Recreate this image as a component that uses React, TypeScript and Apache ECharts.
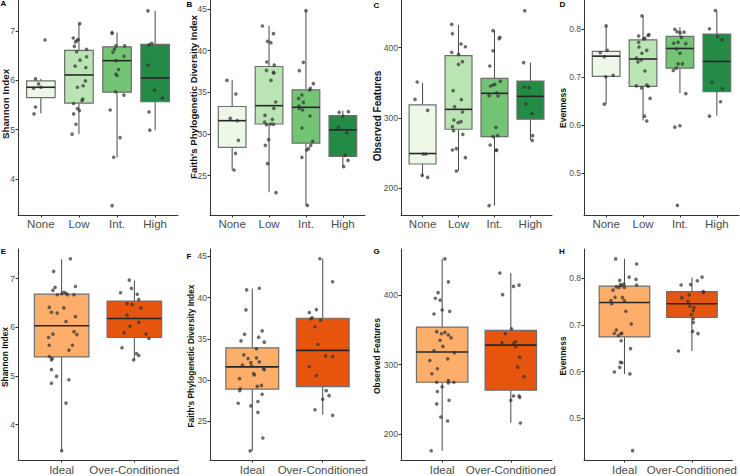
import { useEffect, useRef } from "react";
import * as echarts from "echarts";

const FONT = '"Liberation Sans", Arial, Helvetica, sans-serif';

// Group labels
const conditionGroups = ["None", "Low", "Int.", "High"];
const bcsGroups = ["Ideal", "Over-Conditioned"];

// Fill colours per group
const conditionFills = ["#edf8e9", "#bae4b3", "#74c476", "#238b45"];
const bcsFills = ["#fdae6b", "#e6550d"];

// Box summaries per group: [lower whisker, Q1, median, Q3, upper whisker]
const shannonConditionBoxes = [
  [5.33, 5.65, 5.86, 5.99, 6.03],
  [4.91, 5.54, 6.11, 6.61, 7.16],
  [4.44, 5.76, 6.4, 6.68, 6.97],
  [4.99, 5.57, 6.05, 6.73, 7.41],
];
const faithConditionBoxes = [
  [25.7, 28.4, 31.6, 33.3, 36.5],
  [23.0, 31.2, 33.4, 38.1, 43.0],
  [21.4, 28.9, 33.2, 35.3, 44.8],
  [26.1, 27.3, 30.5, 32.2, 32.8],
];
const observedConditionBoxes = [
  [217, 234.6, 249.5, 318.6, 350],
  [224.6, 284, 312.3, 388.6, 432.2],
  [175.4, 273.5, 335.1, 356.4, 425.1],
  [269, 298.4, 330.8, 352.6, 378.7],
];
const evennessConditionBoxes = [
  [0.644, 0.702, 0.744, 0.754, 0.807],
  [0.61, 0.681, 0.738, 0.778, 0.828],
  [0.667, 0.719, 0.76, 0.785, 0.804],
  [0.62, 0.67, 0.733, 0.79, 0.838],
];
const shannonBcsBoxes = [
  [3.46, 5.39, 6.03, 6.68, 7.4],
  [5.33, 5.79, 6.18, 6.54, 6.96],
];
const faithBcsBoxes = [
  [21.4, 28.9, 31.6, 33.9, 41.1],
  [25.8, 29.2, 33.6, 37.5, 44.7],
];
const observedBcsBoxes = [
  [175.4, 274.4, 318, 354, 452.6],
  [215.6, 263, 328, 349.3, 432.2],
];
const evennessBcsBoxes = [
  [0.595, 0.674, 0.7475, 0.7825, 0.841],
  [0.644, 0.716, 0.745, 0.771, 0.801],
];

// Individual samples: [group index, horizontal jitter, value]
const shannonConditionPoints = [
  [0, 0.11, 6.82], [0, -0.14, 6.03], [0, -0.06, 5.93], [0, -0.19, 5.84], [0, 0, 5.86], [0, -0.14, 5.46], [0, -0.18, 5.32],
  [1, 0.02, 7.15], [1, -0.15, 6.86], [1, -0.02, 6.83], [1, -0.05, 6.81], [1, -0.09, 6.78], [1, -0.12, 6.69], [1, -0.06, 6.58],
  [1, 0.2, 6.63], [1, 0.03, 6.41], [1, 0.2, 6.48], [1, -0.1, 6.29], [1, 0.18, 6.26], [1, 0.17, 5.99], [1, 0.11, 5.89],
  [1, -0.04, 5.86], [1, 0.1, 5.62], [1, 0.08, 5.59], [1, -0.14, 5.53], [1, -0.04, 5.43], [1, 0.01, 5.39], [1, -0.14, 5.32],
  [1, -0.08, 5.11], [1, -0.18, 4.91],
  [2, -0.13, 6.97], [2, -0.13, 6.95], [2, -0.03, 6.7], [2, 0.2, 6.7], [2, -0.07, 6.63], [2, -0.11, 6.57], [2, 0.18, 6.49],
  [2, -0.03, 6.4], [2, 0.04, 6.22], [2, -0.03, 6.13], [2, 0, 6.1], [2, -0.04, 5.77], [2, 0.18, 5.7], [2, -0.18, 5.4],
  [2, 0.08, 4.84], [2, -0.09, 4.44], [2, -0.13, 3.46],
  [3, -0.19, 7.41], [3, -0.09, 6.75], [3, -0.16, 6.72], [3, -0.18, 6.31], [3, -0.02, 5.8], [3, 0.19, 5.64], [3, -0.16, 5.36],
  [3, -0.14, 4.99],
];
const faithConditionPoints = [
  [0, -0.14, 36.44], [0, 0.1, 34.8], [0, -0.05, 31.88], [0, 0.14, 31.6], [0, 0.17, 29.24], [0, 0.09, 27.68], [0, 0.05, 25.68],
  [1, -0.18, 42.96], [1, 0.12, 42.04], [1, -0.04, 41.12], [1, 0.05, 40.96], [1, -0.06, 38.64], [1, 0.14, 38.28],
  [1, -0.07, 37.64], [1, 0.12, 37.4], [1, 0.13, 37.32], [1, 0.05, 36.44], [1, 0.18, 33.84], [1, 0.13, 33.08],
  [1, -0.11, 32.24], [1, -0.12, 31.44], [1, 0.09, 31.76], [1, 0.04, 31.2], [1, 0.12, 31.16], [1, -0.07, 31.12],
  [1, -0.01, 29.32], [1, -0.1, 28.64], [1, -0.04, 26.44], [1, 0.19, 22.96],
  [2, 0, 44.8], [2, -0.07, 38.6], [2, -0.18, 37.6], [2, 0.2, 36.04], [2, 0.12, 35.48], [2, 0.1, 35.28], [2, -0.11, 34.68],
  [2, -0.2, 34.28], [2, -0.07, 33.8], [2, -0.19, 33.36], [2, -0.18, 33.08], [2, -0.09, 32.88], [2, 0.11, 32.16],
  [2, -0.11, 30.72], [2, 0.18, 29.12], [2, 0.13, 28.64], [2, 0.02, 28.08], [2, 0.07, 28.24], [2, -0.11, 27.2], [2, 0.04, 21.44],
  [3, -0.1, 32.6], [3, 0.15, 32.68], [3, 0, 32.12], [3, -0.12, 30.8], [3, 0.11, 30.16], [3, 0.06, 27.44], [3, 0.14, 26.84],
  [3, 0.02, 26.08],
];
const observedConditionPoints = [
  [0, -0.15, 351.2], [0, -0.21, 326.5], [0, 0.14, 310.9], [0, 0.02, 248.8], [0, 0.09, 248.8], [0, -0.01, 218.5], [0, 0.14, 215.6],
  [1, -0.19, 433.2], [1, -0.17, 419.9], [1, 0.07, 405.2], [1, 0.19, 401.4], [1, -0.19, 393.4], [1, 0, 390.5], [1, 0.11, 380.1],
  [1, 0, 376.3], [1, -0.15, 338.9], [1, 0.08, 326.1], [1, -0.11, 316.1], [1, 0.11, 308.5], [1, -0.13, 297.2], [1, -0.01, 293.4],
  [1, 0.07, 294.8], [1, -0.17, 287.7], [1, -0.14, 282.0], [1, 0.12, 276.8], [1, -0.06, 256.4], [1, -0.17, 254.5],
  [1, 0.19, 243.6], [1, -0.06, 224.6],
  [2, -0.04, 424.2], [2, 0.15, 414.7], [2, 0.13, 412.8], [2, -0.04, 395.7], [2, -0.13, 373.9], [2, 0.16, 352.1], [2, 0.01, 347.9],
  [2, -0.04, 346.9], [2, -0.11, 345.5], [2, 0.06, 336.0], [2, -0.15, 331.8], [2, 0.1, 331.3], [2, 0.04, 286.7], [2, -0.04, 273.5],
  [2, 0.09, 274.9], [2, -0.12, 261.6], [2, 0.06, 254.5], [2, 0.05, 254.0], [2, -0.15, 175.4],
  [3, -0.16, 452.6], [3, -0.19, 378.7], [3, -0.17, 344.1], [3, -0.04, 343.1], [3, -0.13, 319.9], [3, 0.04, 306.2],
  [3, 0.06, 274.9], [3, 0.05, 268.2],
];
const evennessConditionPoints = [
  [0, 0, 0.807], [0, -0.16, 0.751], [0, 0.03, 0.756], [0, -0.05, 0.743], [0, -0.01, 0.701], [0, 0.19, 0.704], [0, -0.05, 0.644],
  [1, -0.03, 0.828], [1, -0.12, 0.786], [1, 0.02, 0.78], [1, 0.05, 0.781], [1, 0.14, 0.787], [1, 0.16, 0.789], [1, -0.12, 0.773],
  [1, -0.11, 0.763], [1, -0.03, 0.75], [1, 0.1, 0.756], [1, -0.18, 0.74], [1, -0.14, 0.732], [1, -0.05, 0.736], [1, 0.05, 0.713],
  [1, -0.18, 0.682], [1, -0.04, 0.678], [1, 0.1, 0.684], [1, 0.14, 0.681], [1, 0.19, 0.656], [1, 0.04, 0.619], [1, 0.1, 0.609],
  [2, -0.14, 0.8], [2, -0.08, 0.795], [2, 0, 0.793], [2, 0.11, 0.794], [2, 0.04, 0.783], [2, -0.17, 0.771], [2, -0.05, 0.773],
  [2, 0.16, 0.77], [2, -0.09, 0.759], [2, 0, 0.75], [2, -0.05, 0.728], [2, 0.07, 0.728], [2, -0.18, 0.714], [2, -0.1, 0.719],
  [2, 0.16, 0.666], [2, 0, 0.599], [2, -0.14, 0.596], [2, -0.07, 0.433],
  [3, -0.04, 0.839], [3, -0.2, 0.801], [3, 0.02, 0.785], [3, 0.14, 0.778], [3, -0.13, 0.689], [3, 0.15, 0.676], [3, 0.1, 0.649],
  [3, -0.2, 0.619],
];
const shannonBcsPoints = [
  [0, 0.12, 7.41], [0, -0.11, 7.15], [0, -0.09, 6.82], [0, 0.19, 6.84], [0, -0.12, 6.76], [0, 0.03, 6.72], [0, 0.06, 6.7],
  [0, -0.06, 6.67], [0, 0, 6.69], [0, 0.08, 6.67], [0, 0.17, 6.67], [0, -0.17, 6.41], [0, 0.03, 6.4], [0, -0.14, 6.31],
  [0, -0.06, 6.29], [0, 0.19, 6.22], [0, 0.06, 6.12], [0, 0.17, 5.91], [0, -0.12, 5.86], [0, 0.21, 5.85], [0, -0.18, 5.79],
  [0, -0.17, 5.63], [0, 0.15, 5.63], [0, 0.1, 5.53], [0, -0.17, 5.4], [0, -0.13, 5.36], [0, -0.14, 5.33], [0, -0.14, 5.13],
  [0, -0.07, 4.99], [0, 0.1, 4.92], [0, -0.14, 4.85], [0, 0.06, 4.44], [0, 0, 3.46],
  [1, -0.07, 6.97], [1, -0.04, 6.8], [1, -0.19, 6.71], [1, 0.04, 6.68], [1, 0.06, 6.57], [1, -0.1, 6.49], [1, -0.03, 6.47],
  [1, 0.09, 6.4], [1, -0.1, 6.25], [1, 0.06, 6.1], [1, -0.06, 6.02], [1, -0.14, 5.89], [1, 0.16, 5.86], [1, 0.2, 5.77],
  [1, -0.17, 5.58], [1, 0.03, 5.46], [1, 0.06, 5.42], [1, -0.01, 5.33],
];
const faithBcsPoints = [
  [0, -0.08, 40.94], [0, 0.1, 41.14], [0, -0.09, 38.51], [0, -0.11, 35.56], [0, 0.14, 35.96], [0, 0.09, 35.2], [0, -0.16, 34.76],
  [0, 0.17, 34.6], [0, 0.06, 33.8], [0, -0.12, 33.05], [0, -0.06, 32.61], [0, 0.06, 32.69], [0, -0.02, 32.13], [0, 0.1, 32.21],
  [0, -0.14, 31.81], [0, -0.01, 31.73], [0, 0.02, 30.78], [0, 0.03, 30.62], [0, 0.16, 31.37], [0, 0.17, 31.25], [0, -0.18, 30.18],
  [0, -0.17, 28.94], [0, -0.18, 28.71], [0, 0.07, 29.23], [0, 0.13, 29.35], [0, 0.14, 28.27], [0, -0.2, 27.19], [0, 0.08, 27.39],
  [0, -0.02, 26.87], [0, 0.08, 26.08], [0, 0.15, 22.97], [0, -0.03, 21.41],
  [1, -0.04, 44.72], [1, 0.14, 41.93], [1, -0.09, 38.55], [1, -0.19, 38.19], [1, -0.17, 37.43], [1, -0.15, 37.55], [1, -0.03, 37.27],
  [1, -0.11, 36.47], [1, -0.07, 34.32], [1, 0.04, 32.93], [1, 0.14, 32.85], [1, -0.19, 31.61], [1, -0.09, 30.54], [1, 0.05, 28.71],
  [1, 0.09, 28.11], [1, 0, 27.67], [1, -0.11, 26.4], [1, 0.14, 25.72],
];
const observedBcsPoints = [
  [0, 0.04, 452.6], [0, 0.09, 419.4], [0, -0.06, 403.8], [0, -0.1, 395.7], [0, -0.03, 392.9], [0, 0, 378.7], [0, 0.11, 376.8],
  [0, -0.12, 373.0], [0, -0.08, 347.4], [0, -0.01, 344.5], [0, 0.04, 346.4], [0, 0.09, 342.7], [0, 0.13, 338.4], [0, -0.03, 335.1],
  [0, 0.01, 326.1], [0, -0.12, 319.9], [0, 0.18, 317.1], [0, 0.08, 308.1], [0, -0.18, 305.7], [0, -0.07, 293.8], [0, -0.15, 286.7],
  [0, -0.08, 274.4], [0, 0.09, 276.8], [0, 0.09, 273.5], [0, 0.17, 274.4], [0, 0, 267.8], [0, -0.07, 261.1], [0, -0.08, 243.1],
  [0, 0.1, 248.3], [0, -0.02, 224.2], [0, 0.08, 218.5], [0, -0.16, 175.4],
  [1, -0.16, 432.2], [1, 0.04, 412.8], [1, 0.12, 414.7], [1, -0.12, 400.9], [1, 0.01, 351.7], [1, -0.08, 344.5], [1, -0.13, 331.8],
  [1, 0.04, 330.3], [1, 0.07, 332.7], [1, 0.07, 325.6], [1, 0.13, 310.4], [1, 0.1, 296.2], [1, 0.19, 282.5], [1, 0, 248.3],
  [1, 0.04, 254.5], [1, 0.12, 254.5], [1, 0.13, 252.6], [1, 0.14, 215.6],
];
const evennessBcsPoints = [
  [0, -0.13, 0.841], [0, 0.18, 0.83], [0, 0.07, 0.802], [0, 0.17, 0.797], [0, -0.07, 0.795], [0, -0.01, 0.787], [0, -0.06, 0.786],
  [0, -0.04, 0.784], [0, 0.18, 0.785], [0, -0.12, 0.781], [0, 0, 0.78], [0, -0.08, 0.78], [0, -0.17, 0.774], [0, -0.14, 0.759],
  [0, -0.03, 0.758], [0, -0.2, 0.752], [0, 0, 0.751], [0, -0.19, 0.745], [0, 0.02, 0.729], [0, 0.1, 0.702], [0, -0.12, 0.689],
  [0, -0.15, 0.682], [0, -0.04, 0.682], [0, -0.05, 0.681], [0, -0.09, 0.677], [0, -0.05, 0.666], [0, 0.09, 0.649], [0, -0.06, 0.62],
  [0, -0.04, 0.619], [0, -0.07, 0.609], [0, -0.15, 0.599], [0, 0.08, 0.595], [0, 0.12, 0.431],
  [1, 0.15, 0.802], [1, 0.08, 0.794], [1, -0.16, 0.785], [1, -0.02, 0.786], [1, 0.17, 0.771], [1, 0.17, 0.769], [1, -0.04, 0.764],
  [1, -0.15, 0.758], [1, -0.06, 0.75], [1, -0.03, 0.74], [1, 0.03, 0.737], [1, 0.02, 0.73], [1, -0.01, 0.722], [1, 0.02, 0.713],
  [1, 0.02, 0.705], [1, 0.09, 0.681], [1, 0.01, 0.686], [1, -0.2, 0.644],
];

// Y-axis tick values
const shannonTicks = [4, 5, 6, 7];
const faithTicks = [25, 30, 35, 40, 45];
const observedTicks = [200, 300, 400];
const evennessTicks = [0.5, 0.6, 0.7, 0.8];

const SHANNON = "Shannon Index";
const FAITH = "Faith's Phylogenetic Diversity Index";
const OBSERVED = "Observed Features";
const EVENNESS = "Evenness";

type Panel = {
  letter: string;
  title: string;
  cats: string[];
  fills: string[];
  boxes: number[][];
  points: number[][];
  range: [number, number];
  ticks: number[];
  rect: [number, number, number, number];
  titlePos: [number, number];
  titleSize: number;
  letterPos: [number, number];
  labelMargin: number;
};

const panels: Panel[] = [
  { letter: "A", title: SHANNON, cats: conditionGroups, fills: conditionFills, boxes: shannonConditionBoxes, points: shannonConditionPoints, range: [3.27, 7.63], ticks: shannonTicks, rect: [18, 0, 160, 215], titlePos: [5, 104], titleSize: 9.8, letterPos: [3.5, 3.5], labelMargin: 3 },
  { letter: "B", title: FAITH, cats: conditionGroups, fills: conditionFills, boxes: faithConditionBoxes, points: faithConditionPoints, range: [20.28, 46.08], ticks: faithTicks, rect: [210, 0, 155, 215], titlePos: [193, 97], titleSize: 9.6, letterPos: [189.5, 4.5], labelMargin: 3 },
  { letter: "C", title: OBSERVED, cats: conditionGroups, fills: conditionFills, boxes: observedConditionBoxes, points: observedConditionPoints, range: [162.1, 467.8], ticks: observedTicks, rect: [401, 0, 151, 215], titlePos: [377, 116], titleSize: 10, letterPos: [376.5, 5.5], labelMargin: 3 },
  { letter: "D", title: EVENNESS, cats: conditionGroups, fills: conditionFills, boxes: evennessConditionBoxes, points: evennessConditionPoints, range: [0.413, 0.861], ticks: evennessTicks, rect: [584, 0, 155, 215], titlePos: [563, 108], titleSize: 8.6, letterPos: [562.5, 4.5], labelMargin: 3 },
  { letter: "E", title: SHANNON, cats: bcsGroups, fills: bcsFills, boxes: shannonBcsBoxes, points: shannonBcsPoints, range: [3.27, 7.61], ticks: shannonTicks, rect: [18, 249, 160, 214], titlePos: [5, 357], titleSize: 8.4, letterPos: [3.5, 251.5], labelMargin: 4 },
  { letter: "F", title: FAITH, cats: bcsGroups, fills: bcsFills, boxes: faithBcsBoxes, points: faithBcsPoints, range: [20.3, 45.9], ticks: faithTicks, rect: [210, 249, 155, 214], titlePos: [191, 356], titleSize: 8.4, letterPos: [189, 256], labelMargin: 4 },
  { letter: "G", title: OBSERVED, cats: bcsGroups, fills: bcsFills, boxes: observedBcsBoxes, points: observedBcsPoints, range: [162.1, 466.8], ticks: observedTicks, rect: [401, 249, 151, 214], titlePos: [377, 356], titleSize: 8.4, letterPos: [376.7, 251.7], labelMargin: 4 },
  { letter: "H", title: EVENNESS, cats: bcsGroups, fills: bcsFills, boxes: evennessBcsBoxes, points: evennessBcsPoints, range: [0.411, 0.862], ticks: evennessTicks, rect: [584, 249, 155, 214], titlePos: [563, 356], titleSize: 8.4, letterPos: [562, 251.7], labelMargin: 4 },
];

function buildOption() {
  const grid = panels.map((p) => ({
    left: p.rect[0],
    top: p.rect[1],
    width: p.rect[2],
    height: p.rect[3],
    containLabel: false,
  }));

  const xAxis = panels.map((p, i) => {
    const idx = p.cats.map((_, k) => k);
    return {
      type: "value",
      gridIndex: i,
      min: -0.6,
      max: p.cats.length - 0.4,
      axisLine: { show: true, onZero: false, lineStyle: { color: "#333333", width: 1 } },
      axisTick: { show: true, customValues: idx, length: 2.5, lineStyle: { color: "#333333", width: 1 } },
      axisLabel: {
        show: true,
        customValues: idx,
        formatter: (v: number) => p.cats[Math.round(v)] ?? "",
        fontSize: 11.5,
        color: "#4d4d4d",
        fontFamily: FONT,
        margin: p.labelMargin,
      },
      splitLine: { show: false },
    };
  });

  const yAxis = panels.map((p, i) => ({
    type: "value",
    gridIndex: i,
    min: p.range[0],
    max: p.range[1],
    axisLine: { show: true, onZero: false, lineStyle: { color: "#333333", width: 1 } },
    axisTick: { show: true, customValues: p.ticks, length: 2.5, lineStyle: { color: "#333333", width: 1 } },
    axisLabel: {
      show: true,
      customValues: p.ticks,
      fontSize: 8.5,
      color: "#4d4d4d",
      fontFamily: FONT,
      margin: 3,
    },
    splitLine: { show: false },
  }));

  const series: any[] = [];
  panels.forEach((p, i) => {
    series.push({
      type: "custom",
      xAxisIndex: i,
      yAxisIndex: i,
      data: p.boxes.map((b, k) => [k, ...b]),
      encode: { x: 0, y: [1, 2, 3, 4, 5] },
      renderItem: (params: any, api: any) => {
        const x = api.value(0);
        const lo = api.coord([x, api.value(1)]);
        const q1 = api.coord([x, api.value(2)]);
        const md = api.coord([x, api.value(3)]);
        const q3 = api.coord([x, api.value(4)]);
        const hi = api.coord([x, api.value(5)]);
        const half = api.size([0.75, 0])[0] / 2;
        const cx = lo[0];
        const whisker = { stroke: "#4a4a4a", lineWidth: 1 };
        return {
          type: "group",
          children: [
            { type: "line", shape: { x1: cx, y1: hi[1], x2: cx, y2: q3[1] }, style: whisker },
            { type: "line", shape: { x1: cx, y1: q1[1], x2: cx, y2: lo[1] }, style: whisker },
            {
              type: "rect",
              shape: { x: cx - half, y: q3[1], width: half * 2, height: q1[1] - q3[1] },
              style: { fill: p.fills[params.dataIndex], stroke: "#6e6e6e", lineWidth: 1.2 },
            },
            {
              type: "line",
              shape: { x1: cx - half, y1: md[1], x2: cx + half, y2: md[1] },
              style: { stroke: "#262626", lineWidth: 1.6 },
            },
          ],
        };
      },
      silent: true,
      z: 2,
    });
    series.push({
      type: "scatter",
      xAxisIndex: i,
      yAxisIndex: i,
      data: p.points.map((pt) => [pt[0] + pt[1], pt[2]]),
      symbol: "circle",
      symbolSize: 3.6,
      itemStyle: { color: "#333333", opacity: 0.72 },
      silent: true,
      z: 3,
    });
  });

  const graphic: any[] = [];
  panels.forEach((p) => {
    graphic.push({
      type: "text",
      x: p.titlePos[0],
      y: p.titlePos[1],
      rotation: Math.PI / 2,
      style: {
        text: p.title,
        fontSize: p.titleSize,
        fontWeight: "bold",
        fontFamily: FONT,
        fill: "#111111",
        align: "center",
        verticalAlign: "middle",
        textAlign: "center",
        textVerticalAlign: "middle",
      },
    });
    graphic.push({
      type: "text",
      x: p.letterPos[0],
      y: p.letterPos[1],
      style: {
        text: p.letter,
        fontSize: 8,
        fontWeight: "bold",
        fontFamily: FONT,
        fill: "#000000",
        align: "center",
        verticalAlign: "middle",
        textAlign: "center",
        textVerticalAlign: "middle",
      },
    });
  });

  return {
    animation: false,
    backgroundColor: "#ffffff",
    textStyle: { fontFamily: FONT },
    grid,
    xAxis,
    yAxis,
    series,
    graphic,
  };
}

export default function App() {
  const ref = useRef<HTMLDivElement>(null);
  useEffect(() => {
    if (!ref.current) return;
    const chart = echarts.init(ref.current, undefined, { renderer: "svg" });
    chart.setOption(buildOption() as any);
    return () => chart.dispose();
  }, []);
  return (
    <div
      ref={ref}
      style={{ position: "fixed", left: 0, top: 0, width: 740, height: 476, background: "#ffffff" }}
    />
  );
}
